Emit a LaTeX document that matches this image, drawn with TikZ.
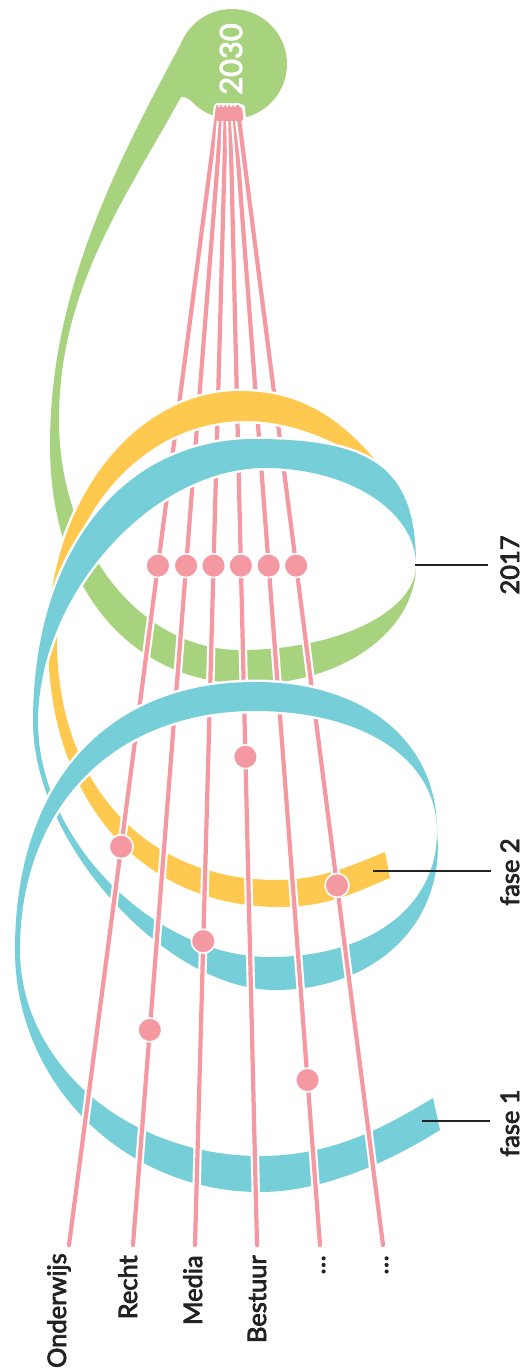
\documentclass[tikz,border=0pt]{standalone}
\usepackage{fontspec}
\setmainfont{Lato}
\newfontfamily\tagfont[FakeBold=3]{Lato}
\usepackage{tikz}

\definecolor{greenband}{HTML}{A8D37E}
\definecolor{yellowband}{HTML}{FFC84E}
\definecolor{blueband}{HTML}{76CED8}
\definecolor{pinkline}{HTML}{F498A1}
\definecolor{ink}{HTML}{222222}

% one piece of ribbon: colour, outer edge, inner edge (backwards)
\newcommand{\ribbon}[3]{%
	\draw[halo] #2;
	\draw[halo] #3;
	\fill[#1] #2 -- #3 -- cycle;
}

\begin{document}
\begin{tikzpicture}[
			x = 0.02cm, y = -0.02cm,
			halo/.style = {draw = white, line width = 2.8pt},
			thread/.style = {draw = pinkline, line width = 2.4pt, line cap = round},
			threadhalo/.style = {draw = white, line width = 4.8pt, line cap = round},
			milestone/.style = {circle, fill = pinkline, draw = white, line width = 0.9pt,
				minimum size = 13.6pt, inner sep = 0pt},
			sectortext/.style = {rotate = 90, inner sep = 0pt, text = ink,
				font = \tagfont\fontsize{14.5}{17}\selectfont},
			leader/.style = {draw = ink, line width = 0.75pt}]
	\useasboundingbox (0,0) rectangle (523,1371);

	% green ribbon, 2017 to 2030
	\ribbon{greenband}
		{(416,565) .. controls +(0,66) and +(92,0) .. (250,684) .. controls +(-120,0) and +(0,143) .. (50,445)
			.. controls +(0,-150) and +(-71.4,131.9) .. (184,38)}
		{(225,80) -- (198,106) .. controls (190,100) and (186,96) .. (181,97)
			.. controls +(-58,105) and +(0,-130) .. (59,420) .. controls +(0,127) and +(-100,0) .. (240,650)
			.. controls +(97,0) and +(0,47) .. (416,565)}
	\fill[greenband] (232,64) circle[radius = 1.1cm];
	\node[rotate = 90, anchor = base, inner sep = 0pt, text = white,
		font = \tagfont\fontsize{17.5}{20}\selectfont] (y2030) at (242,59) {2030};

	% lower arcs
	\ribbon{yellowband}
		{(390,878) .. controls +(-30,12) and +(50,0) .. (280,907) .. controls +(-139,0) and +(0,160) .. (48,640)}
		{(57,640) .. controls +(0,144) and +(-132,0) .. (277,880) .. controls +(45,0) and +(-30,12) .. (385,852)}
	\ribbon{blueband}
		{(33,722) .. controls +(0,121) and +(-109,0) .. (275,990) .. controls +(90,0) and +(0,90) .. (438,845) -- (437,832)}
		{(437,832) .. controls +(0,75) and +(100,0) .. (270,957) .. controls +(-116,0) and +(0,118) .. (38,722)}
	\ribbon{blueband}
		{(15,950) .. controls +(0,134) and +(-135,0) .. (260,1192) .. controls +(70,0) and +(-40,25) .. (440,1130)}
		{(433,1098) .. controls +(-45,27) and +(75,0) .. (260,1156) .. controls +(-132,0) and +(0,114) .. (20,950)}

	% threads from 2030 down to the sectors
	\fill[white, rounded corners = 1.4pt] (214.5,104.5) -- (244.5,104.5) -- (246.5,124) -- (212.5,124) -- cycle;
	\foreach \i/\tx/\bx in {1/218/69, 2/222/133, 3/226/195, 4/230/257, 5/234/320, 6/237.5/383} {
		\coordinate (top\i) at (\tx,107);
		\coordinate (end\i) at (\bx,1245);
		\draw[threadhalo] (top\i) -- (end\i);
		\draw[thread] (top\i) -- (end\i);
	}
	\fill[pinkline, rounded corners = 1pt] (217,107) -- (242,107) -- (243.5,121) -- (215.5,121) -- cycle;

	% upper arcs
	\ribbon{yellowband}
		{(48,646) -- (48,640) .. controls +(0,-137) and +(-106,0) .. (240,391) .. controls +(90,0) and +(-35,-40) .. (403,493)}
		{(403,493) .. controls +(-25,-28) and +(70,0) .. (245,421) .. controls +(-104,0) and +(0,-121) .. (57,640) -- (57,646)}
	\ribbon{blueband}
		{(416,565) .. controls +(0,-94.5) and +(121,0) .. (255,439) .. controls +(-133,0) and +(0,-170) .. (33,722) -- (33,728)}
		{(38,728) -- (38,722) .. controls +(0,-127) and +(-113.5,0) .. (265,468) .. controls +(83,0) and +(0,-54) .. (416,565)}
	\ribbon{blueband}
		{(437,830) .. controls +(0,-89) and +(109,0) .. (255,682) .. controls +(-149,0) and +(0,-166) .. (15,950) -- (15,956)}
		{(20,956) -- (20,950) .. controls +(0,-143) and +(-141,0) .. (255,711) .. controls +(109,0) and +(0,-73) .. (437,832)}

	% milestones on the threads
	\path (top1) -- (end1) node[milestone, pos = .403] (m1a) {} node[milestone, pos = .650] (m1b) {};
	\path (top2) -- (end2) node[milestone, pos = .403] (m2a) {} node[milestone, pos = .811] (m2b) {};
	\path (top3) -- (end3) node[milestone, pos = .403] (m3a) {} node[milestone, pos = .733] (m3b) {};
	\path (top4) -- (end4) node[milestone, pos = .403] (m4a) {} node[milestone, pos = .571] (m4b) {};
	\path (top5) -- (end5) node[milestone, pos = .403] (m5a) {} node[milestone, pos = .855] (m5b) {};
	\path (top6) -- (end6) node[milestone, pos = .403] (m6a) {} node[milestone, pos = .684] (m6b) {};

	% sectors
	\node[sectortext, anchor = base east] (onderwijs) at (66,1253) {Onderwijs};
	\node[sectortext, anchor = base east] (recht) at (137,1255) {Recht};
	\node[sectortext, anchor = base east] (media) at (202,1255) {Media};
	\node[sectortext, anchor = base east] (bestuur) at (266,1255) {Bestuur};
	\node[sectortext, anchor = base east] (more1) at (325,1255) {…};
	\node[sectortext, anchor = base east] (more2) at (388,1255) {…};

	% phases
	\coordinate (tip2017) at (415,565);
	\coordinate (end2017) at (488,565);
	\coordinate (tipfase2) at (373,871);
	\coordinate (endfase2) at (491,871);
	\coordinate (tipfase1) at (422,1121);
	\coordinate (endfase1) at (490,1121);
	\draw[leader] (tip2017) -- (end2017);
	\draw[leader] (tipfase2) -- (endfase2);
	\draw[leader] (tipfase1) -- (endfase1);
	\node[sectortext, anchor = base] (year2017) at (519,565) {2017};
	\node[sectortext, anchor = base] (fase2) at (519,872) {fase 2};
	\node[sectortext, anchor = base] (fase1) at (519,1123) {fase 1};
\end{tikzpicture}
\end{document}
